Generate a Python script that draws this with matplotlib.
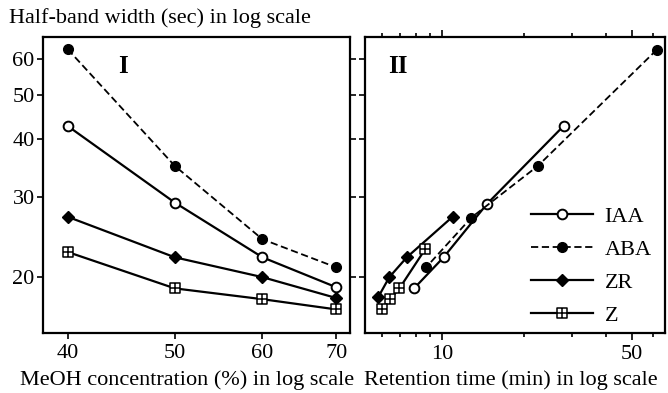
import numpy as np
import matplotlib.pyplot as plt
from matplotlib.path import Path
from matplotlib.ticker import FixedLocator, NullFormatter, NullLocator, FixedFormatter

plt.rcParams['font.family'] = ['Liberation Serif', 'DejaVu Serif']

# panel I: MeOH concentration (%)
meoh = [40, 50, 60, 70]
iaa_w = [42.8, 29.1, 22.1, 19.0]
aba_w = [63.0, 35.0, 24.2, 21.0]
zr_w = [27.1, 22.1, 20.0, 18.0]
z_w = [22.7, 18.9, 17.9, 17.0]

# panel II: retention time (min) vs half-band width
iaa_rt = [28.0, 14.6, 10.1, 7.86]
iaa_w2 = [42.8, 28.9, 22.1, 18.9]
aba_rt = [61.8, 22.5, 12.8, 8.7]
aba_w2 = [62.8, 35.0, 27.0, 21.0]
zr_rt = [10.9, 7.39, 6.37, 5.80]
zr_w2 = [27.1, 22.1, 20.0, 18.1]
z_rt = [8.63, 6.94, 6.41, 5.98]
z_w2 = [23.0, 18.9, 17.9, 17.0]

yticks = [20, 30, 40, 50, 60]

# square with a plus inside
boxplus = Path([(-1, -1), (1, -1), (1, 1), (-1, 1), (-1, -1),
                (-1, 0), (1, 0), (0, -1), (0, 1)],
               [Path.MOVETO, Path.LINETO, Path.LINETO, Path.LINETO, Path.CLOSEPOLY,
                Path.MOVETO, Path.LINETO, Path.MOVETO, Path.LINETO])

styles = {
    'IAA': dict(color='black', lw=1.6, ls='-', marker='o', ms=7, mfc='white', mew=1.4),
    'ABA': dict(color='black', lw=1.3, ls=(0, (4, 2)), marker='o', ms=7, mfc='black'),
    'ZR': dict(color='black', lw=1.6, ls='-', marker='D', ms=6, mfc='black'),
    'Z': dict(color='black', lw=1.6, ls='-', marker=boxplus, ms=7.5, mfc='white', mew=1.1),
}

fs = 16

fig = plt.figure(figsize=(6.68, 3.93), dpi=100)
ax1 = fig.add_axes([0.0644, 0.1527, 0.4596, 0.7533])
ax2 = fig.add_axes([0.5464, 0.1527, 0.4491, 0.7533])

ax1.plot(meoh, iaa_w, **styles['IAA'])
ax1.plot(meoh, aba_w, **styles['ABA'])
ax1.plot(meoh, zr_w, **styles['ZR'])
ax1.plot(meoh, z_w, **styles['Z'])

ax2.plot(iaa_rt, iaa_w2, label='IAA', **styles['IAA'])
ax2.plot(aba_rt, aba_w2, label='ABA', **styles['ABA'])
ax2.plot(zr_rt, zr_w2, label='ZR', **styles['ZR'])
ax2.plot(z_rt, z_w2, label='Z', **styles['Z'])

for ax in (ax1, ax2):
    ax.set_yscale('log')
    ax.set_xscale('log')
    ax.set_ylim(15.1, 67)
    ax.yaxis.set_major_locator(FixedLocator(yticks))
    ax.yaxis.set_minor_locator(NullLocator())
    for s in ax.spines.values():
        s.set_linewidth(1.6)
    ax.tick_params(which='both', width=1.2, labelsize=fs, pad=2)
    ax.tick_params(axis='x', pad=4)

ax1.set_xlim(38, 72)
ax1.xaxis.set_major_locator(FixedLocator(meoh))
ax1.xaxis.set_major_formatter(FixedFormatter([str(m) for m in meoh]))
ax1.xaxis.set_minor_locator(NullLocator())
ax1.yaxis.set_major_formatter(FixedFormatter([str(t) for t in yticks]))
ax1.tick_params(axis='y', right=True, length=4)
ax1.tick_params(axis='x', length=4)

ax2.set_xlim(5.18, 66.3)
ax2.xaxis.set_major_locator(FixedLocator([10, 50]))
ax2.xaxis.set_major_formatter(FixedFormatter(['10', '50']))
ax2.xaxis.set_minor_locator(FixedLocator([6, 7, 8, 9, 20, 30, 40, 60]))
ax2.xaxis.set_minor_formatter(NullFormatter())
ax2.yaxis.set_major_formatter(NullFormatter())
ax2.tick_params(axis='x', which='both', top=True, length=3)
ax2.tick_params(axis='x', which='major', length=5)
ax2.tick_params(axis='y', length=4)

ax1.text(0.26, 0.9, 'I', transform=ax1.transAxes, fontsize=18, fontweight='bold',
         ha='center', va='center')
ax2.text(0.11, 0.9, 'II', transform=ax2.transAxes, fontsize=18, fontweight='bold',
         ha='center', va='center')

ax2.legend(loc='lower right', frameon=False, fontsize=fs, handlelength=2.8,
           labelspacing=0.56, handletextpad=0.5, borderaxespad=0.0,
           bbox_to_anchor=(0.985, -0.005))

fig.text(0.014, 0.955, 'Half-band width (sec) in log scale', fontsize=fs,
         ha='left', va='center')
fig.text(0.28, 0.032, 'MeOH concentration (%) in log scale', fontsize=fs,
         ha='center', va='center')
fig.text(0.765, 0.032, 'Retention time (min) in log scale', fontsize=fs,
         ha='center', va='center')

fig.savefig('out.png', dpi=100)
